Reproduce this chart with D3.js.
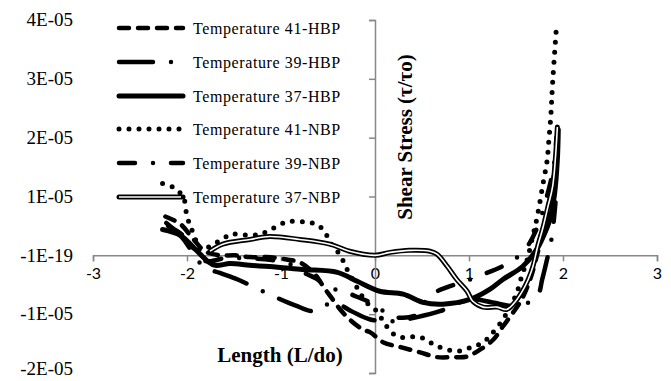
<!DOCTYPE html>
<html>
<head>
<meta charset="utf-8">
<script src="https://cdn.jsdelivr.net/npm/d3@7"></script>
<style>
  body { margin: 0; background: #fff; }
</style>
</head>
<body>
<div id="chart"></div>
<script>
// x tick values and y tick values (y in units of 1E-05)
const xTicks = [-3, -2, -1, 0, 1, 2, 3]
const yTicks = [-2, -1, 0, 1, 2, 3, 4]
const yTickLabels = ["-2E-05", "-1E-05", "-1E-19", "1E-05", "2E-05", "3E-05", "4E-05"]

const seriesNames = ["Temperature 41-HBP", "Temperature 39-HBP", "Temperature 37-HBP",
    "Temperature 41-NBP", "Temperature 39-NBP", "Temperature 37-NBP"]

// [Length L/do, Shear stress in 1E-05]
const t41HBP = [[-2.23,0.66],[-2.07,0.53],[-1.95,0.31],[-1.81,0.07],[-1.65,0.0],[-1.49,0.0],[-1.33,-0.03],
    [-1.15,-0.03],[-0.94,-0.07],[-0.80,-0.12],[-0.69,-0.24],[-0.62,-0.36],[-0.55,-0.53],[-0.45,-0.75],
    [-0.37,-0.92],[-0.27,-1.09],[-0.13,-1.26],[-0.05,-1.31],[0.09,-1.48],[0.27,-1.56],[0.48,-1.65],
    [0.66,-1.73],[0.83,-1.73],[0.98,-1.72],[1.12,-1.60],[1.26,-1.43],[1.36,-1.21],[1.47,-0.97],
    [1.56,-0.75],[1.65,-0.41],[1.72,-0.02],[1.79,0.44],[1.86,0.95],[1.91,1.45],[1.93,1.8]]

const t39HBP = [[-2.22,0.55],[-2.05,0.3],[-1.92,0.0],[-1.82,-0.2],[-1.65,-0.3],[-1.46,-0.41],[-1.26,-0.56],
    [-1.06,-0.71],[-0.85,-0.85],[-0.64,-0.95],[-0.45,-0.80],[-0.25,-0.95],[-0.05,-1.09],[0.2,-1.12],
    [0.45,-1.05],[0.69,-0.95],[1.01,-0.75],[1.25,-0.8],[1.5,-0.86],[1.72,-0.71],[1.78,-0.4],[1.83,-0.07],
    [1.88,0.3],[1.92,0.9]]

const t37HBP = [[-2.26,0.44],[-2.07,0.34],[-1.91,0.10],[-1.78,-0.10],[-1.70,-0.17],[-1.54,-0.14],[-1.33,-0.17],
    [-1.12,-0.19],[-0.77,-0.24],[-0.40,-0.29],[-0.19,-0.44],[0.05,-0.61],[0.30,-0.66],[0.51,-0.80],
    [0.72,-0.83],[1.01,-0.75],[1.22,-0.58],[1.36,-0.41],[1.57,-0.19],[1.72,0.10],[1.79,0.32],[1.86,0.61],
    [1.91,1.04],[1.94,1.63],[1.95,2.14]]

const t41NBP = [[-2.26,1.22],[-2.15,1.16],[-2.04,0.99],[-2.0,0.66],[-1.95,0.44],[-1.91,0.27],[-1.86,0.1],
    [-1.76,0.15],[-1.6,0.3],[-1.52,0.36],[-1.3,0.34],[-1.17,0.39],[-0.96,0.56],[-0.85,0.58],[-0.72,0.56],
    [-0.62,0.53],[-0.53,0.39],[-0.48,0.22],[-0.40,0.07],[-0.34,-0.09],[-0.29,-0.26],[-0.18,-0.58],
    [-0.09,-0.80],[0.02,-0.95],[0.12,-1.2],[0.24,-1.38],[0.48,-1.39],[0.67,-1.55],[0.88,-1.63],
    [1.03,-1.56],[1.15,-1.48],[1.24,-1.34],[1.36,-1.09],[1.44,-0.87],[1.51,-0.63],[1.56,-0.36],
    [1.62,-0.07],[1.67,0.27],[1.72,0.61],[1.79,1.24],[1.83,1.6],[1.85,1.97],[1.87,2.36],[1.89,2.94],[1.93,3.88]]

const t39NBP = [[-2.2,0.5],[-2.05,0.35],[-1.92,0.1],[-1.8,-0.1],[-1.6,-0.05],[-1.35,-0.05],[-1.1,-0.08],
    [-0.9,-0.15],[-0.75,-0.3],[-0.62,-0.4],[-0.5,-0.55],[-0.35,-0.6],[-0.2,-0.7],[-0.05,-0.8],[0.02,-0.87],
    [0.21,-1.05],[0.46,-1.0],[0.56,-0.71],[0.77,-0.54],[0.93,-0.46],[1.09,-0.36],[1.35,-0.19],[1.5,-0.05],
    [1.62,0.15],[1.72,0.45],[1.82,0.95],[1.9,1.5],[1.93,2.0]]

const t37NBP = [[-1.755,0.07],[-1.62,0.19],[-1.33,0.27],[-1.12,0.32],[-0.80,0.27],[-0.48,0.19],[-0.27,0.07],
    [0,0.0],[0.16,0.05],[0.37,0.085],[0.585,0.07],[0.66,0.02],[0.77,-0.19],[0.87,-0.41],[0.98,-0.61],
    [1.04,-0.78],[1.15,-0.88],[1.30,-0.88],[1.40,-0.92],[1.47,-0.83],[1.56,-0.63],[1.63,-0.41],[1.68,-0.19],
    [1.73,0.15],[1.79,0.49],[1.84,0.83],[1.89,1.17],[1.94,2.18]]

const seriesData = [t41HBP, t39HBP, t37HBP, t41NBP, t39NBP, t37NBP]

// line styles per series
const styles = [
    {width: 4.5, dash: "10 9", cap: "round"},
    {width: 4.5, dash: "34 18 0 18", cap: "round"},
    {width: 5, dash: null, cap: "round"},
    {width: 5, dash: "0 10", cap: "round"},
    {width: 4.5, dash: "16 18 0 18", cap: "round"},
    {width: 5, dash: null, cap: "round", double: true}
]

const serif = "'Liberation Serif', 'Times New Roman', serif"

const width = 671
const height = 381

const svg = d3.select("#chart")
    .append("svg")
    .attr("width", width)
    .attr("height", height)

const xScale = d3.scaleLinear()
    .domain([-3, 3])
    .range([93, 657])

const yScale = d3.scaleLinear()
    .domain([-2, 4])
    .range([373, 20])

const axisColor = "#888"

// x axis sits at y = 0
const xAxis = d3.axisBottom(xScale)
    .tickValues(xTicks)
    .tickSize(6)
    .tickFormat(d => d)

const gx = svg.append("g")
    .attr("transform", `translate(0, ${yScale(0)})`)
    .call(xAxis)
gx.select(".domain").attr("stroke", axisColor).attr("stroke-width", 1.5)
gx.selectAll(".tick line").attr("stroke", axisColor).attr("stroke-width", 1.5)
gx.selectAll(".tick text")
    .style("font-family", "Lato, 'Open Sans', sans-serif")
    .style("font-size", "16px")
    .attr("fill", "#000")
    .attr("y", 12)

// y axis sits at x = 0, labels pushed to the far left
const yAxis = d3.axisLeft(yScale)
    .tickValues(yTicks)
    .tickSize(6)
    .tickFormat((d, i) => yTickLabels[i])

const gy = svg.append("g")
    .attr("transform", `translate(${xScale(0)}, 0)`)
    .call(yAxis)
gy.select(".domain").attr("stroke", axisColor).attr("stroke-width", 1.5)
gy.selectAll(".tick line").attr("stroke", axisColor).attr("stroke-width", 1.5)
gy.selectAll(".tick text")
    .style("font-family", serif)
    .style("font-size", "19px")
    .attr("fill", "#000")
    .attr("x", 73 - xScale(0))
    .attr("dy", (d, i) => i === 0 ? "0.1em" : "0.3em")

const line = d3.line()
    .x(d => xScale(d[0]))
    .y(d => yScale(d[1]))
    .curve(d3.curveCatmullRom.alpha(0.5))

seriesData.forEach((data, i) => {
    const s = styles[i]
    svg.append("path")
        .datum(data)
        .attr("fill", "none")
        .attr("stroke", "#000")
        .attr("stroke-width", s.width)
        .attr("stroke-linecap", s.cap)
        .attr("stroke-linejoin", "round")
        .attr("stroke-dasharray", s.dash)
        .attr("d", line)
    if (s.double) {
        svg.append("path")
            .datum(data)
            .attr("fill", "none")
            .attr("stroke", "#fff")
            .attr("stroke-width", 1.6)
            .attr("d", line)
    }
})

// legend
const legendY = [28, 62, 96, 129, 163, 197]
const legend = svg.append("g")
seriesNames.forEach((name, i) => {
    const s = styles[i]
    const y = legendY[i]
    legend.append("line")
        .attr("x1", 119).attr("x2", 183)
        .attr("y1", y).attr("y2", y)
        .attr("stroke", "#000")
        .attr("stroke-width", s.width)
        .attr("stroke-linecap", s.cap)
        .attr("stroke-dasharray", s.dash)
    if (s.double) {
        legend.append("line")
            .attr("x1", 119).attr("x2", 181)
            .attr("y1", y).attr("y2", y)
            .attr("stroke", "#fff")
            .attr("stroke-width", 1.6)
    }
    legend.append("text")
        .attr("x", 193)
        .attr("y", y)
        .attr("dy", "0.35em")
        .style("font-family", serif)
        .style("font-size", "16px")
        .attr("letter-spacing", 0.6)
        .text(name)
})

// axis titles
svg.append("text")
    .attr("x", 280)
    .attr("y", 362)
    .attr("text-anchor", "middle")
    .style("font-family", serif)
    .style("font-weight", "bold")
    .style("font-size", "21px")
    .text("Length (L/do)")

svg.append("text")
    .attr("transform", `translate(412, 137) rotate(-90)`)
    .attr("text-anchor", "middle")
    .style("font-family", serif)
    .style("font-weight", "bold")
    .style("font-size", "21px")
    .text("Shear Stress (τ/τo)")
</script>
</body>
</html>
